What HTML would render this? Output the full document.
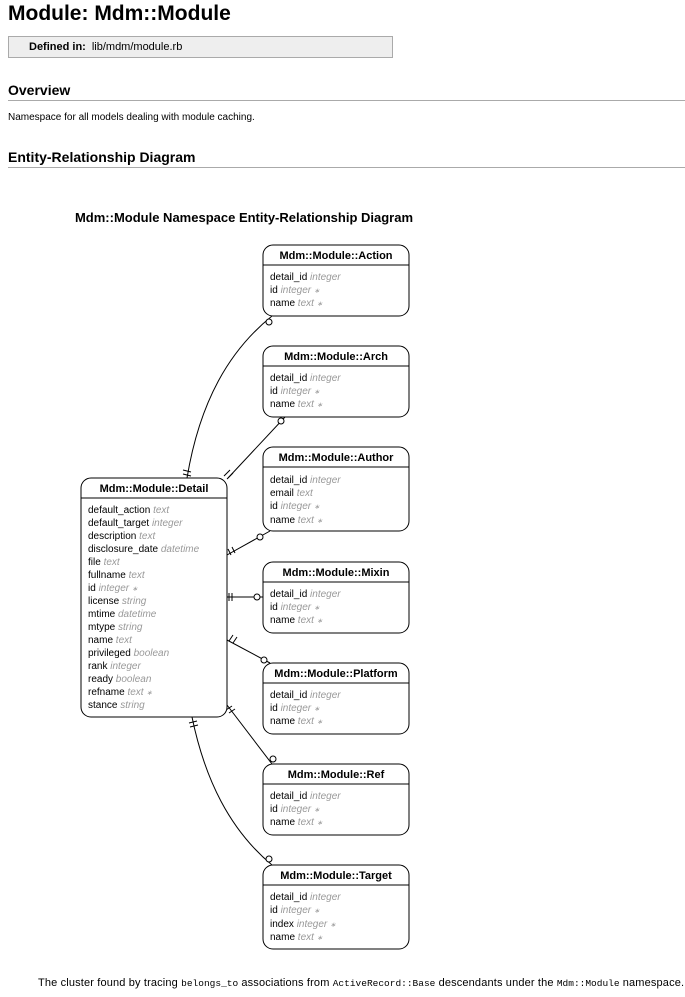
<!DOCTYPE html>
<html><head><meta charset="utf-8"><style>
body{margin:0;background:#fff;font-family:"Liberation Sans",sans-serif;color:#000;width:685px;height:997px;overflow:hidden;position:relative}
h1{position:absolute;left:8px;top:2px;margin:0;font-size:21px;font-weight:bold}
.def{position:absolute;left:8px;top:36px;width:383px;height:20px;background:#eee;border:1px solid #aaa;font-size:11px;line-height:20px}
.def b{margin-left:20px;margin-right:6px}
h2{position:absolute;left:8px;margin:0;font-size:14px;font-weight:bold;width:677px;border-bottom:1px solid #aaa;padding-bottom:2px}
.p{position:absolute;left:8px;top:112px;font-size:10px}
.cap{position:absolute;left:38px;top:977px;font-size:11px;white-space:nowrap;letter-spacing:0.15px}
.cap code{font-family:"Liberation Mono",monospace;font-size:9.5px;letter-spacing:0}
.s{font-size:7px}
</style></head><body>
<h1>Module: Mdm::Module</h1>
<div class="def"><b>Defined in:</b>lib/mdm/module.rb</div>
<h2 style="top:82px">Overview</h2>
<div class="p">Namespace for all models dealing with module caching.</div>
<h2 style="top:149px">Entity-Relationship Diagram</h2>
<svg width="685" height="997" style="position:absolute;left:0;top:0" font-family="Liberation Sans, sans-serif">
<text x="244" y="222" font-size="13" font-weight="bold" text-anchor="middle">Mdm::Module Namespace Entity-Relationship Diagram</text>
<g fill="none" stroke="#000" stroke-width="1">
<path d="M187,478 C200,400 230,350 272,316"/>
<path d="M228,478 L285,417"/>
<path d="M227,555 L270,531"/>
<path d="M227,597 L263,597"/>
<path d="M227,640 L270,663"/>
<path d="M227,705 L272,764"/>
<path d="M192,717 C205,780 230,830 272,865"/>
<path d="M183,470 l8,2 M183,474 l8,2"/>
<path d="M224,476 l6,-6 M227,479 l6,-6"/>
<path d="M228,549 l3,6 M232,547 l3,6"/>
<path d="M229,593 v8 M232,593 v8"/>
<path d="M229,641 l4,-6 M233,643 l4,-6"/>
<path d="M226,710 l6,-4 M229,713 l6,-4"/>
<path d="M189,723 l8,-2 M190,727 l8,-2"/>
</g>
<g fill="#fff" stroke="#000">
<circle cx="269" cy="322" r="3"/>
<circle cx="281" cy="421" r="3"/>
<circle cx="260" cy="537" r="3"/>
<circle cx="257" cy="597" r="3"/>
<circle cx="264" cy="660" r="3"/>
<circle cx="273" cy="759" r="3"/>
<circle cx="269" cy="859" r="3"/>
</g>
<g font-size="10">
<rect x="81" y="478" width="146" height="239" rx="10" fill="#fff" stroke="#000"/>
<line x1="81" y1="498" x2="227" y2="498" stroke="#000"/>
<text x="154" y="492" font-size="11" font-weight="bold" text-anchor="middle">Mdm::Module::Detail</text>
<g fill="#000">
<text x="88" y="513">default_action <tspan fill="#999" font-style="italic">text</tspan></text>
<text x="88" y="526">default_target <tspan fill="#999" font-style="italic">integer</tspan></text>
<text x="88" y="539">description <tspan fill="#999" font-style="italic">text</tspan></text>
<text x="88" y="552">disclosure_date <tspan fill="#999" font-style="italic">datetime</tspan></text>
<text x="88" y="565">file <tspan fill="#999" font-style="italic">text</tspan></text>
<text x="88" y="578">fullname <tspan fill="#999" font-style="italic">text</tspan></text>
<text x="88" y="591">id <tspan fill="#999" font-style="italic">integer <tspan class="s">∗</tspan></tspan></text>
<text x="88" y="604">license <tspan fill="#999" font-style="italic">string</tspan></text>
<text x="88" y="617">mtime <tspan fill="#999" font-style="italic">datetime</tspan></text>
<text x="88" y="630">mtype <tspan fill="#999" font-style="italic">string</tspan></text>
<text x="88" y="643">name <tspan fill="#999" font-style="italic">text</tspan></text>
<text x="88" y="656">privileged <tspan fill="#999" font-style="italic">boolean</tspan></text>
<text x="88" y="669">rank <tspan fill="#999" font-style="italic">integer</tspan></text>
<text x="88" y="682">ready <tspan fill="#999" font-style="italic">boolean</tspan></text>
<text x="88" y="695">refname <tspan fill="#999" font-style="italic">text <tspan class="s">∗</tspan></tspan></text>
<text x="88" y="708">stance <tspan fill="#999" font-style="italic">string</tspan></text>
</g>

<rect x="263" y="245" width="146" height="71" rx="10" fill="#fff" stroke="#000"/>
<line x1="263" y1="265" x2="409" y2="265" stroke="#000"/>
<text x="336" y="259" font-size="11" font-weight="bold" text-anchor="middle">Mdm::Module::Action</text>
<text x="270" y="280">detail_id <tspan fill="#999" font-style="italic">integer</tspan></text>
<text x="270" y="293">id <tspan fill="#999" font-style="italic">integer <tspan class="s">∗</tspan></tspan></text>
<text x="270" y="306">name <tspan fill="#999" font-style="italic">text <tspan class="s">∗</tspan></tspan></text>

<rect x="263" y="346" width="146" height="71" rx="10" fill="#fff" stroke="#000"/>
<line x1="263" y1="366" x2="409" y2="366" stroke="#000"/>
<text x="336" y="360" font-size="11" font-weight="bold" text-anchor="middle">Mdm::Module::Arch</text>
<text x="270" y="381">detail_id <tspan fill="#999" font-style="italic">integer</tspan></text>
<text x="270" y="394">id <tspan fill="#999" font-style="italic">integer <tspan class="s">∗</tspan></tspan></text>
<text x="270" y="407">name <tspan fill="#999" font-style="italic">text <tspan class="s">∗</tspan></tspan></text>

<rect x="263" y="447" width="146" height="84" rx="10" fill="#fff" stroke="#000"/>
<line x1="263" y1="467" x2="409" y2="467" stroke="#000"/>
<text x="336" y="461" font-size="11" font-weight="bold" text-anchor="middle">Mdm::Module::Author</text>
<text x="270" y="483">detail_id <tspan fill="#999" font-style="italic">integer</tspan></text>
<text x="270" y="496">email <tspan fill="#999" font-style="italic">text</tspan></text>
<text x="270" y="509">id <tspan fill="#999" font-style="italic">integer <tspan class="s">∗</tspan></tspan></text>
<text x="270" y="523">name <tspan fill="#999" font-style="italic">text <tspan class="s">∗</tspan></tspan></text>

<rect x="263" y="562" width="146" height="71" rx="10" fill="#fff" stroke="#000"/>
<line x1="263" y1="582" x2="409" y2="582" stroke="#000"/>
<text x="336" y="576" font-size="11" font-weight="bold" text-anchor="middle">Mdm::Module::Mixin</text>
<text x="270" y="597">detail_id <tspan fill="#999" font-style="italic">integer</tspan></text>
<text x="270" y="610">id <tspan fill="#999" font-style="italic">integer <tspan class="s">∗</tspan></tspan></text>
<text x="270" y="623">name <tspan fill="#999" font-style="italic">text <tspan class="s">∗</tspan></tspan></text>

<rect x="263" y="663" width="146" height="71" rx="10" fill="#fff" stroke="#000"/>
<line x1="263" y1="683" x2="409" y2="683" stroke="#000"/>
<text x="336" y="677" font-size="11" font-weight="bold" text-anchor="middle">Mdm::Module::Platform</text>
<text x="270" y="698">detail_id <tspan fill="#999" font-style="italic">integer</tspan></text>
<text x="270" y="711">id <tspan fill="#999" font-style="italic">integer <tspan class="s">∗</tspan></tspan></text>
<text x="270" y="724">name <tspan fill="#999" font-style="italic">text <tspan class="s">∗</tspan></tspan></text>

<rect x="263" y="764" width="146" height="71" rx="10" fill="#fff" stroke="#000"/>
<line x1="263" y1="784" x2="409" y2="784" stroke="#000"/>
<text x="336" y="778" font-size="11" font-weight="bold" text-anchor="middle">Mdm::Module::Ref</text>
<text x="270" y="799">detail_id <tspan fill="#999" font-style="italic">integer</tspan></text>
<text x="270" y="812">id <tspan fill="#999" font-style="italic">integer <tspan class="s">∗</tspan></tspan></text>
<text x="270" y="825">name <tspan fill="#999" font-style="italic">text <tspan class="s">∗</tspan></tspan></text>

<rect x="263" y="865" width="146" height="84" rx="10" fill="#fff" stroke="#000"/>
<line x1="263" y1="885" x2="409" y2="885" stroke="#000"/>
<text x="336" y="879" font-size="11" font-weight="bold" text-anchor="middle">Mdm::Module::Target</text>
<text x="270" y="900">detail_id <tspan fill="#999" font-style="italic">integer</tspan></text>
<text x="270" y="913">id <tspan fill="#999" font-style="italic">integer <tspan class="s">∗</tspan></tspan></text>
<text x="270" y="927">index <tspan fill="#999" font-style="italic">integer <tspan class="s">∗</tspan></tspan></text>
<text x="270" y="940">name <tspan fill="#999" font-style="italic">text <tspan class="s">∗</tspan></tspan></text>
</g>
</svg>
<div class="cap">The cluster found by tracing <code>belongs_to</code> associations from <code>ActiveRecord::Base</code> descendants under the <code>Mdm::Module</code> namespace.</div>
</body></html>
